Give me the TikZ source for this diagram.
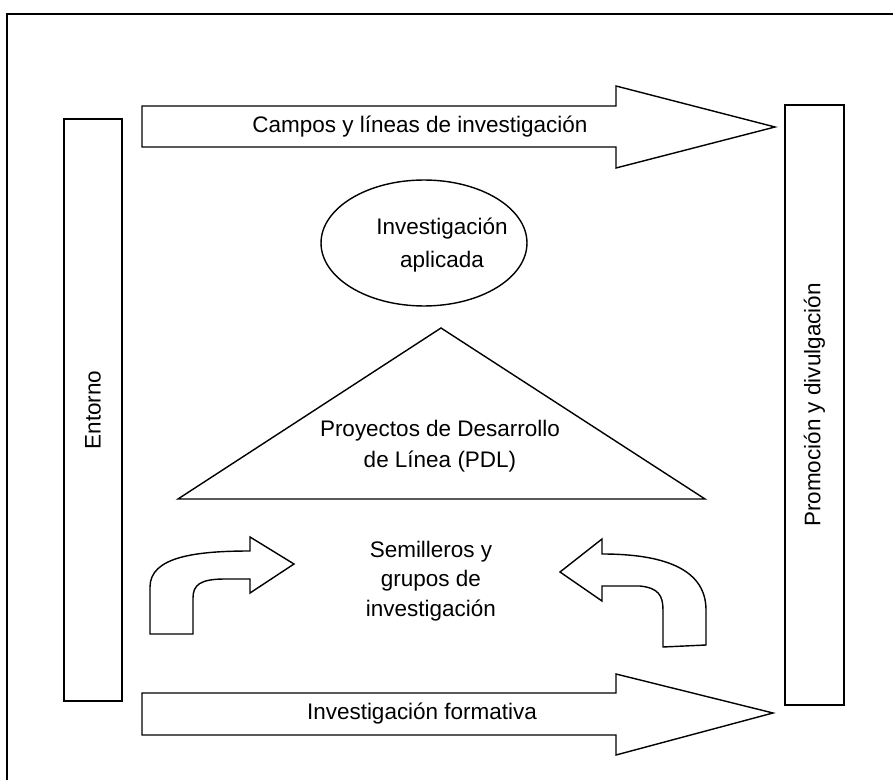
\documentclass[tikz,border=0pt]{standalone}
\usepackage{fontspec}
\setmainfont{Liberation Sans}
\usetikzlibrary{positioning,shapes.geometric}

\begin{document}
\begin{tikzpicture}[x=0.02cm,y=-0.02cm,
    every node/.style={font=\fontsize{12.8}{18}\selectfont,align=center,inner sep=0pt},
    caja/.style={draw,line width=0.9pt},
    flecha/.style={draw,line width=0.8pt,line join=miter}]
    \useasboundingbox (0,0) rectangle (893,780);
    \draw[line width=1.4pt] (7,780) -- (7,14) -- (893,14);
    \begin{scope}[node distance=1 and 1]
        \node[caja,rotate=90,minimum width=11.64cm,minimum height=1.16cm](ent) at (93,410){Entorno};
        \node[caja,rotate=90,minimum width=12cm,minimum height=1.18cm](prom) at (814.5,405){Promoción y divulgación};
        \node[ellipse,draw,line width=0.8pt,minimum width=4.12cm,minimum height=2.52cm](apl) at (424,243){};
        \node[font=\fontsize{12.8}{19}\selectfont](aplt) at (442,245){Investigación\\aplicada};
        \node(pdl) at (440,446){Proyectos de Desarrollo\\de Línea (PDL)};
        \node[font=\fontsize{12.8}{16.8}\selectfont](sem) at (431,581){Semilleros y\\grupos de\\investigación};
        \node(campos) at (420,127){Campos y líneas de investigación};
        \node(form) at (422,714){Investigación formativa};
    \end{scope}
    \coordinate (pico) at (441,328);
    \coordinate (izq) at (178,499);
    \coordinate (der) at (705,499);
    \draw[flecha] (pico) -- (der) -- (izq) -- cycle;
    \draw[flecha] (142,106) -- (616,106) -- (616,86) -- (775,127) -- (616,168) -- (616,147) -- (142,147) -- cycle;
    \draw[flecha] (142,693) -- (616,693) -- (616,674) -- (773,713) -- (616,755) -- (616,735) -- (142,735) -- cycle;
    \draw[flecha] (150,634) -- (150,587) .. controls (150,557) and (195,551) .. (250,551)
        -- (250,537) -- (294,564) -- (250,593) -- (250,579) -- (225,579)
        .. controls (200,579) and (193,585) .. (193,598) -- (193,634) -- cycle;
    \draw[flecha] (706,645) -- (706,610) .. controls (706,572) and (670,554) .. (602,554)
        -- (602,539) -- (560,572) -- (602,601) -- (602,586) -- (640,586)
        .. controls (658,588) and (663,595) .. (663,610) -- (663,647) -- cycle;
\end{tikzpicture}
\end{document}
